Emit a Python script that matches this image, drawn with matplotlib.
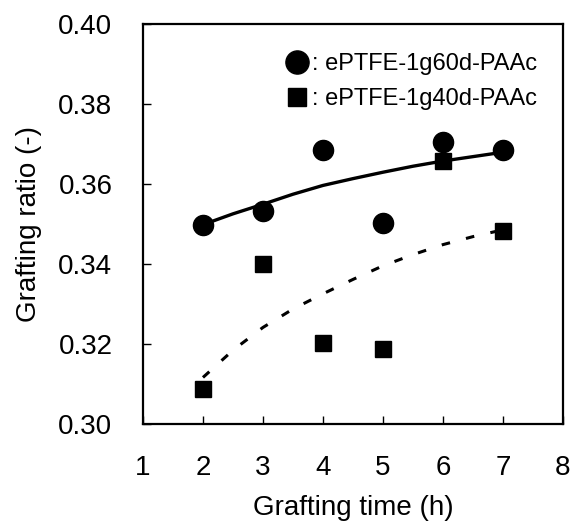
import matplotlib
matplotlib.use('Agg')
import matplotlib.pyplot as plt

plt.rcParams['font.family'] = ['Liberation Sans', 'DejaVu Sans']

time_h = [2, 3, 4, 5, 6, 7]
ratio_60d = [0.3499, 0.3533, 0.3686, 0.3504, 0.3706, 0.3686]
ratio_40d = [0.3087, 0.3400, 0.3202, 0.3188, 0.3657, 0.3484]

# fitted curves
fit_x = [2, 2.5, 3, 3.5, 4, 4.5, 5, 5.5, 6, 6.5, 7]
fit_60d = [0.3499, 0.3526, 0.3550, 0.3575, 0.3597, 0.3614, 0.3630, 0.3645, 0.3658, 0.3669, 0.3680]
fit_40d = [0.3117, 0.3185, 0.3242, 0.3288, 0.3326, 0.3362, 0.3396, 0.3424, 0.3449, 0.3469, 0.3486]

label_60d = ': ePTFE-1g60d-PAAc'
label_40d = ': ePTFE-1g40d-PAAc'

fig = plt.figure(figsize=(5.72, 5.27), dpi=100)
ax = fig.add_axes([0.25, 0.195, 0.734, 0.759])

ax.plot(fit_x, fit_60d, '-', color='black', lw=2.4)
ax.plot(fit_x, fit_40d, color='black', lw=2.2, dashes=(2.8, 5.4))
h1, = ax.plot(time_h, ratio_60d, 'o', color='black', ms=14.5, linestyle='none')
h2, = ax.plot(time_h, ratio_40d, 's', color='black', ms=11, linestyle='none')

ax.set_xlim(1, 8)
ax.set_ylim(0.30, 0.40)
ax.set_xticks(range(1, 9))
ax.set_yticks([0.30, 0.32, 0.34, 0.36, 0.38, 0.40])
ax.set_yticklabels(['0.30', '0.32', '0.34', '0.36', '0.38', '0.40'])

ax.tick_params(axis='x', direction='in', length=6, width=1, labelsize=20, pad=22)
ax.tick_params(axis='y', direction='in', length=6, width=1, labelsize=20, pad=22)
for s in ax.spines.values():
    s.set_linewidth(1.6)

ax.set_xlabel('Grafting time (h)', fontsize=20, labelpad=10)
ax.set_ylabel('Grafting ratio (-)', fontsize=20, labelpad=12)

ax.legend([h1, h2], [label_60d, label_40d], loc='upper left',
          bbox_to_anchor=(0.338, 0.928), frameon=False, fontsize=17,
          handlelength=1.0, handletextpad=0.15, labelspacing=0.55,
          borderpad=0, borderaxespad=0, markerscale=1.15)

fig.savefig('out.png', dpi=100)
